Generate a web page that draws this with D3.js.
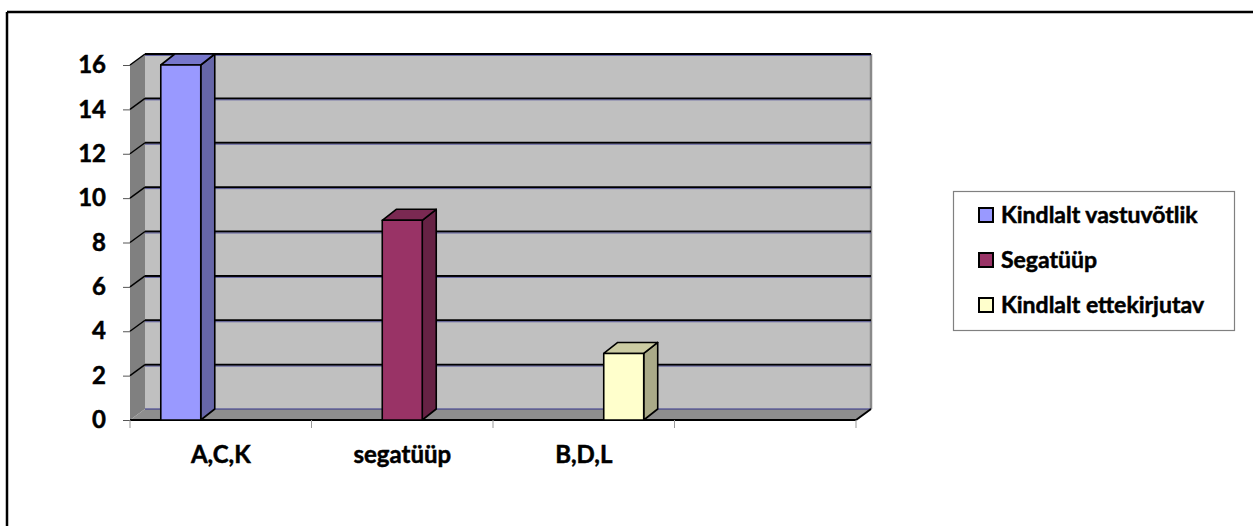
<!DOCTYPE html>
<html><head><meta charset="utf-8">
<script src="https://cdn.jsdelivr.net/npm/d3@7"></script>
<style>html,body{margin:0;padding:0;background:#fff;}svg{display:block;}</style>
</head><body>
<svg id="chart" width="1253" height="526"></svg>
<script>
const categories = ["A,C,K", "segatüüp", "B,D,L", ""];
const seriesNames = ["Kindlalt vastuvõtlik", "Segatüüp", "Kindlalt ettekirjutav"];
const vastuvotlik = [16, null, null, null];
const segatyyp = [null, 9, null, null];
const ettekirjutav = [null, null, 3, null];
const yTicks = [0, 2, 4, 6, 8, 10, 12, 14, 16];

const seriesValues = [vastuvotlik, segatyyp, ettekirjutav];
const colors = [
  {front: "#9999FF", side: "#6666A8", top: "#7777CC"},
  {front: "#993366", side: "#662244", top: "#7A2952"},
  {front: "#FFFFCC", side: "#AAAA88", top: "#CCCCA3"}
];

const svg = d3.select("#chart");
const font = "Lato, 'Open Sans', sans-serif";

// outer frame (top and left edges)
svg.append("line").attr("x1", 7).attr("y1", 12).attr("x2", 1253).attr("y2", 12).attr("stroke", "#000").attr("stroke-width", 2.5);
svg.append("line").attr("x1", 7).attr("y1", 12).attr("x2", 7).attr("y2", 526).attr("stroke", "#000").attr("stroke-width", 2.5);

const x0 = 130, x1 = 856, yBot = 420, yTop = 65;
const DX = 15, DY = 11;
const bDX = 14, bDY = 11;

const x = d3.scaleBand().domain(d3.range(categories.length)).range([x0, x1]).paddingInner(0).paddingOuter(0);
const xs = d3.scaleBand().domain(d3.range(seriesNames.length)).range([0, x.bandwidth()]).paddingInner(0).paddingOuter(0.77);
const y = d3.scaleLinear().domain([0, 16]).range([yBot, yTop]);

const pts = a => a.map(p => p.join(",")).join(" ");

// back wall
svg.append("rect").attr("x", x0 + DX).attr("y", y(16) - DY).attr("width", x1 - x0).attr("height", y(0) - y(16))
  .attr("fill", "#C0C0C0");
// left side wall
svg.append("polygon").attr("points", pts([[x0, y(16)], [x0 + DX, y(16) - DY], [x0 + DX, y(0) - DY], [x0, y(0)]]))
  .attr("fill", "#808080");
// floor
svg.append("polygon").attr("points", pts([[x0, y(0)], [x0 + DX, y(0) - DY], [x1 + DX, y(0) - DY], [x1, y(0)]]))
  .attr("fill", "#8E8E8E");
// back wall right edge
svg.append("line").attr("x1", x1 + DX).attr("y1", y(16) - DY).attr("x2", x1 + DX).attr("y2", y(0) - DY)
  .attr("stroke", "#8A8A8A").attr("stroke-width", 2.5);
// floor back edge
svg.append("line").attr("x1", x0 + DX).attr("y1", y(0) - DY).attr("x2", x1 + DX).attr("y2", y(0) - DY)
  .attr("stroke", "#33338A").attr("stroke-width", 1);

// gridlines
yTicks.filter(t => t > 0).forEach(t => {
  const yy = y(t);
  svg.append("line").attr("x1", x0 + DX).attr("y1", yy - DY).attr("x2", x1 + DX).attr("y2", yy - DY)
    .attr("stroke", "#000").attr("stroke-width", 2);
  svg.append("line").attr("x1", x0 + DX).attr("y1", yy - DY + 1.5).attr("x2", x1 + DX).attr("y2", yy - DY + 1.5)
    .attr("stroke", "#4A4A9A").attr("stroke-width", 0.8);
  svg.append("line").attr("x1", x0).attr("y1", yy).attr("x2", x0 + DX).attr("y2", yy - DY)
    .attr("stroke", "#000").attr("stroke-width", 1.5);
});

// front axis lines
svg.append("line").attr("x1", x0).attr("y1", y(0)).attr("x2", x1).attr("y2", y(0)).attr("stroke", "#000").attr("stroke-width", 2);
svg.append("line").attr("x1", x1).attr("y1", y(0)).attr("x2", x1 + DX).attr("y2", y(0) - DY).attr("stroke", "#000").attr("stroke-width", 2);

// y axis ticks & labels
const yAxis = d3.axisLeft(y).tickValues(yTicks).tickSize(7).tickPadding(17);
const gy = svg.append("g").attr("transform", `translate(${x0},0)`).call(yAxis);
gy.select(".domain").remove();
gy.selectAll(".tick line").attr("stroke", "#555").attr("stroke-width", 1);
gy.selectAll(".tick text").attr("font-family", font).attr("font-weight", "bold").attr("font-size", 24)
  .attr("fill", "#000").attr("stroke", "#000").attr("stroke-width", 0.5);

// x axis ticks & labels
const xAxis = d3.axisBottom(x).tickFormat(i => categories[i]).tickSize(0).tickPadding(26);
const gx = svg.append("g").attr("transform", `translate(0,${y(0)})`).call(xAxis);
gx.select(".domain").remove();
gx.selectAll(".tick text").attr("font-family", font).attr("font-weight", "bold").attr("font-size", 24)
  .attr("fill", "#000").attr("stroke", "#000").attr("stroke-width", 0.5);
const bounds = d3.range(categories.length + 1).map(i => i < categories.length ? x(i) : x1);
svg.selectAll(".xtick").data(bounds).join("line").attr("class", "xtick")
  .attr("x1", d => d).attr("x2", d => d).attr("y1", y(0)).attr("y2", y(0) + 8)
  .attr("stroke", "#999").attr("stroke-width", 1);

// bars
seriesValues.forEach((vals, si) => {
  vals.forEach((v, ci) => {
    if (v == null) return;
    const bx = x(ci) + xs(si), bw = xs.bandwidth();
    const yt = y(v), yb = y(0);
    const c = colors[si];
    const g = svg.append("g").attr("stroke", "#000").attr("stroke-width", 1.6).attr("stroke-linejoin", "round");
    g.append("polygon").attr("points", pts([[bx + bw, yt], [bx + bw + bDX, yt - bDY], [bx + bw + bDX, yb - bDY], [bx + bw, yb]])).attr("fill", c.side);
    g.append("polygon").attr("points", pts([[bx, yt], [bx + bDX, yt - bDY], [bx + bw + bDX, yt - bDY], [bx + bw, yt]])).attr("fill", c.top);
    g.append("rect").attr("x", bx).attr("y", yt).attr("width", bw).attr("height", yb - yt).attr("fill", c.front);
  });
});

// legend
const lg = svg.append("g");
lg.append("rect").attr("x", 953.5).attr("y", 191.5).attr("width", 281).attr("height", 139)
  .attr("fill", "#fff").attr("stroke", "#808080").attr("stroke-width", 1.2);
seriesNames.forEach((name, i) => {
  const cy = 215 + i * 45;
  lg.append("rect").attr("x", 979).attr("y", cy - 7).attr("width", 14).attr("height", 14)
    .attr("fill", colors[i].front).attr("stroke", "#000").attr("stroke-width", 2);
  lg.append("text").attr("x", 1001).attr("y", cy).attr("dy", "0.36em")
    .attr("font-family", font).attr("font-weight", "bold").attr("font-size", 23)
    .attr("fill", "#000").attr("stroke", "#000").attr("stroke-width", 0.5).text(name);
});
</script>
</body></html>
